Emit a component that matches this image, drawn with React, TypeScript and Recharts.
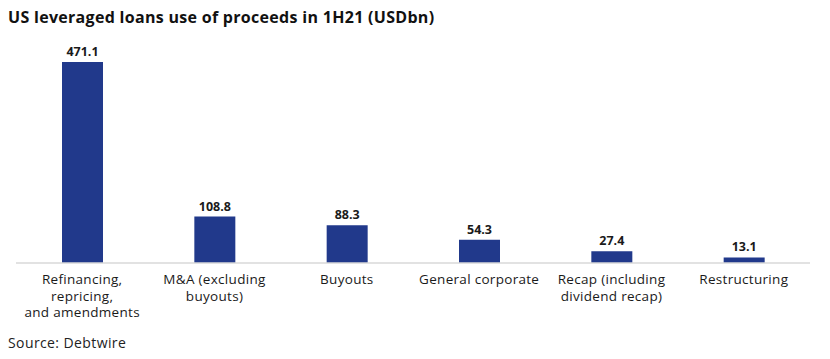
import { BarChart, Bar, XAxis, YAxis, LabelList } from 'recharts';

const categories = [
  'Refinancing,\nrepricing,\nand amendments',
  'M&A (excluding\nbuyouts)',
  'Buyouts',
  'General corporate',
  'Recap (including\ndividend recap)',
  'Restructuring',
];
const proceeds = [471.1, 108.8, 88.3, 54.3, 27.4, 13.1];

const data = categories.map((name, i) => ({ name, value: proceeds[i] }));

const FONT = '"Open Sans", "DejaVu Sans", sans-serif';

function MultiLineTick({ x, y, payload }: any) {
  const lines = String(payload.value).split('\n');
  return (
    <text x={x} y={y} textAnchor="middle" fill="#1a1a1a" fontSize={13.5} letterSpacing={0.3} fontFamily={FONT}>
      {lines.map((l, i) => (
        <tspan key={i} x={x} dy={i === 0 ? 13 : 16.5}>
          {l}
        </tspan>
      ))}
    </text>
  );
}

export default function App() {
  return (
    <div style={{ position: 'absolute', left: 0, top: 0, width: 830, height: 359, background: '#fff', fontFamily: FONT }}>
      <div style={{ position: 'absolute', left: 8, top: 6, fontSize: 16, fontWeight: 700, letterSpacing: 0.3, color: '#111' }}>
        US leveraged loans use of proceeds in 1H21 (USDbn)
      </div>
      <BarChart
        width={830}
        height={359}
        data={data}
        margin={{ top: 62, right: 20, left: 16, bottom: 26 }}
      >
        <XAxis
          dataKey="name"
          interval={0}
          height={70}
          tickLine={false}
          axisLine={{ stroke: '#d9d9d9', strokeWidth: 1.5 }}
          tick={<MultiLineTick />}
        />
        <YAxis hide domain={[0, 471.1]} />
        <Bar dataKey="value" fill="#21398b" barSize={41} isAnimationActive={false}>
          <LabelList
            dataKey="value"
            position="top"
            offset={6}
            formatter={(v: any) => Number(v).toFixed(1)}
            style={{ fontSize: 12.5, fontWeight: 700, fill: '#1a1a1a', fontFamily: FONT }}
          />
        </Bar>
      </BarChart>
      <div style={{ position: 'absolute', left: 8, top: 333, fontSize: 14, letterSpacing: 0.4, color: '#222' }}>
        Source: Debtwire
      </div>
    </div>
  );
}
